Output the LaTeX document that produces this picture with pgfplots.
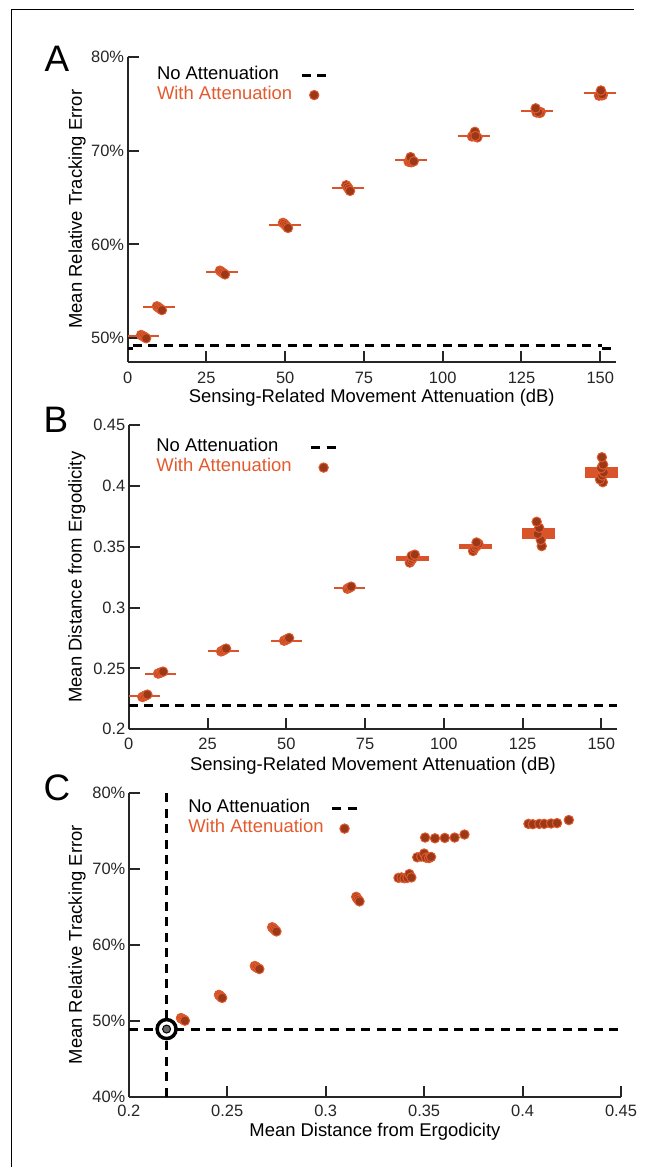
\documentclass[border=0pt]{standalone}
\usepackage{fontspec}
\setmainfont{Liberation Sans}
\usepackage{pgfplots}
\pgfplotsset{compat=1.18}
\usepackage{pgfplotstable}

\definecolor{barc}{HTML}{D9542A}
\definecolor{dotfill}{HTML}{9A3817}
\definecolor{dotedge}{HTML}{DE5A2E}
\definecolor{txto}{HTML}{E35A2E}
\definecolor{axc}{HTML}{262626}

\pgfplotstableread{
cond xj dist err
5 4.3 0.2265 50.35
5 4.7 0.2270 50.25
5 5.1 0.2275 50.2
5 5.5 0.2280 50.1
5 5.9 0.2285 50.0
10 9.3 0.2458 53.4
10 9.7 0.2462 53.3
10 10.1 0.2466 53.2
10 10.5 0.2470 53.1
10 10.9 0.2474 53.0
30 29.3 0.2640 57.2
30 29.7 0.2645 57.1
30 30.1 0.2650 57.0
30 30.5 0.2657 56.9
30 30.9 0.2663 56.8
50 49.3 0.2728 62.3
50 49.7 0.2733 62.2
50 50.1 0.2738 62.05
50 50.5 0.2744 61.9
50 50.9 0.2750 61.75
70 69.4 0.3155 66.3
70 69.8 0.3160 66.1
70 70.2 0.3166 65.9
70 70.6 0.3172 65.7
90 89.2 0.3370 68.8
90 89.6 0.3385 68.85
90 90.0 0.3400 68.75
90 90.4 0.3415 68.8
90 89.8 0.3425 69.3
90 90.8 0.3435 68.85
110 109.3 0.3465 71.5
110 109.7 0.3485 71.6
110 110.2 0.3500 72.0
110 110.6 0.3510 71.45
110 111.0 0.3525 71.4
110 110.4 0.3535 71.55
130 131.1 0.3505 74.1
130 130.8 0.3555 74.0
130 129.8 0.3605 74.05
130 130.3 0.3655 74.1
130 129.5 0.3705 74.5
150 150.5 0.4030 75.9
150 149.6 0.4052 75.85
150 150.3 0.4085 75.9
150 150.8 0.4110 75.9
150 150.0 0.4145 75.95
150 150.6 0.4175 76.0
150 150.2 0.4235 76.4
}\pts

\pgfplotsset{
 panel/.style={
  scale only axis, clip=false,
  axis lines=left,
  axis line style={-, axc, line width=2bp},
  tick align=inside, major tick length=11bp,
  every tick/.style={axc, line width=2bp},
  tick label style={font=\fontsize{16.5}{18}\selectfont, text=axc},
  label style={font=\fontsize{18.5}{20}\selectfont},
  legend style={draw=none, fill=none, inner sep=0pt, outer sep=0pt, anchor=north west,
    font=\fontsize{18.5}{20}\selectfont,
    nodes={inner sep=0pt, outer sep=0pt, text height=14bp, text depth=6bp}, row sep=0pt},
  legend cell align=left, legend plot pos=right,
 },
 dots/.style={only marks, mark=*, mark size=4.7bp, mark options={fill=dotfill, draw=dotedge, line width=1bp}},
 nodash/.style={black, line width=3bp, dash pattern=on 9bp off 6.5bp},
 thinbar/.style={barc, line width=2bp},
 boxbar/.style={fill=barc, draw=barc, line width=1.5bp},
 dashleg/.style={legend image code/.code={\draw[##1] (0bp,0bp) -- (25bp,0bp);}},
 dotleg/.style={legend image code/.code={\path (0bp,0bp) (25bp,0bp); \draw[##1] plot coordinates {(12.5bp,0bp)};}},
}

\begin{document}
\begin{tikzpicture}
\path[use as bounding box] (0bp,0bp) rectangle (646bp,-1167bp);
\draw[black, line width=1bp] (11.5bp,-1167bp) -- (11.5bp,-9.5bp) -- (634bp,-9.5bp);

\node[font=\fontsize{37}{40}\selectfont, inner sep=0pt, anchor=center] at (57bp,-58.5bp) {A};
\node[font=\fontsize{37}{40}\selectfont, inner sep=0pt, anchor=center] at (56bp,-420bp) {B};
\node[font=\fontsize{37}{40}\selectfont, inner sep=0pt, anchor=center] at (57bp,-787.5bp) {C};

% ---------------- Panel A
\begin{axis}[panel,
  at={(127.6bp,-361.7bp)}, anchor=south west,
  width=488.4bp, height=305bp,
  xmin=0, xmax=155, ymin=47.5, ymax=80,
  xtick={0,25,50,75,100,125,150}, xticklabels={0,25,50,75,100,125,150},
  ytick={50,60,70,80}, yticklabels={50\%,60\%,70\%,80\%},
  xticklabel style={yshift=-7bp},
  xlabel={Sensing-Related Movement Attenuation (dB)},
  ylabel={Mean Relative Tracking Error},
  xlabel style={at={(axis description cs:0.5,-0.119)}, anchor=center},
  ylabel style={at={(axis description cs:-0.1036,0.5)}, anchor=center},
  legend style={at={(axis description cs:0.0602,0.9725)}, /tikz/column sep=8bp},
]
\addlegendimage{nodash, dashleg}
\addlegendentry{No Attenuation}
\addlegendimage{dots, dotleg}
\addlegendentry{\textcolor{txto}{With Attenuation}}
\addplot[nodash, forget plot] coordinates {(0,48.9) (1.6,48.9)};
\addplot[nodash, forget plot] coordinates {(1.6,49.25) (150.5,49.25)};
\addplot[nodash, forget plot] coordinates {(150.5,48.9) (155,48.9)};
\addplot[thinbar, forget plot] coordinates {(0,50.25) (10,50.25)};
\addplot[thinbar, forget plot] coordinates {(5,53.34) (15,53.34)};
\addplot[thinbar, forget plot] coordinates {(25,57.07) (35,57.07)};
\addplot[thinbar, forget plot] coordinates {(45,62.05) (55,62.05)};
\addplot[thinbar, forget plot] coordinates {(65,65.96) (75,65.96)};
\addplot[thinbar, forget plot] coordinates {(85,68.98) (95,68.98)};
\addplot[thinbar, forget plot] coordinates {(105,71.6) (115,71.6)};
\addplot[thinbar, forget plot] coordinates {(125,74.2) (135,74.2)};
\addplot[thinbar, forget plot] coordinates {(145,76.1) (155,76.1)};
\addplot[dots, forget plot] table[x=xj, y=err] {\pts};
\end{axis}

% ---------------- Panel B
\begin{axis}[panel,
  at={(128.8bp,-729.3bp)}, anchor=south west,
  width=488.2bp, height=304.3bp,
  xmin=0, xmax=155, ymin=0.2, ymax=0.45,
  xtick={0,25,50,75,100,125,150}, xticklabels={0,25,50,75,100,125,150},
  ytick={0.2,0.25,0.3,0.35,0.4,0.45}, yticklabels={0.2,0.25,0.3,0.35,0.4,0.45},
  xticklabel style={yshift=-5bp},
  xlabel={Sensing-Related Movement Attenuation (dB)},
  ylabel={Mean Distance from Ergodicity},
  xlabel style={at={(axis description cs:0.5,-0.1206)}, anchor=center},
  ylabel style={at={(axis description cs:-0.1065,0.5)}, anchor=center},
  legend style={at={(axis description cs:0.0565,0.9586)}, /tikz/column sep=18bp},
]
\addlegendimage{nodash, dashleg}
\addlegendentry{No Attenuation}
\addlegendimage{dots, dotleg}
\addlegendentry{\textcolor{txto}{With Attenuation}}
\addplot[nodash, forget plot] coordinates {(0,0.2194) (155,0.2194)};
\addplot[thinbar, forget plot] coordinates {(0,0.2275) (10,0.2275)};
\addplot[thinbar, forget plot] coordinates {(5,0.2454) (15,0.2454)};
\addplot[thinbar, forget plot] coordinates {(25,0.2646) (35,0.2646)};
\addplot[thinbar, forget plot] coordinates {(45,0.2728) (55,0.2728)};
\addplot[thinbar, forget plot] coordinates {(65,0.3163) (75,0.3163)};
\addplot[boxbar, forget plot] coordinates {(85,0.3388) (95,0.3388) (95,0.3415) (85,0.3415)} -- cycle;
\addplot[boxbar, forget plot] coordinates {(105,0.3486) (115,0.3486) (115,0.3519) (105,0.3519)} -- cycle;
\addplot[boxbar, forget plot] coordinates {(125,0.3569) (135,0.3569) (135,0.3648) (125,0.3648)} -- cycle;
\addplot[boxbar, forget plot] coordinates {(145,0.4068) (155,0.4068) (155,0.4152) (145,0.4152)} -- cycle;
\addplot[dots, forget plot] table[x=xj, y=dist] {\pts};
\end{axis}

% ---------------- Panel C
\begin{axis}[panel,
  at={(128.8bp,-1096.7bp)}, anchor=south west,
  width=492.2bp, height=304bp,
  xmin=0.2, xmax=0.45, ymin=40, ymax=80,
  xtick={0.2,0.25,0.3,0.35,0.4,0.45}, xticklabels={0.2,0.25,0.3,0.35,0.4,0.45},
  ytick={40,50,60,70,80}, yticklabels={40\%,50\%,60\%,70\%,80\%},
  xticklabel style={yshift=-5bp},
  xlabel={Mean Distance from Ergodicity},
  ylabel={Mean Relative Tracking Error},
  xlabel style={at={(axis description cs:0.5,-0.115)}, anchor=center},
  ylabel style={at={(axis description cs:-0.105,0.5)}, anchor=center},
  legend style={at={(axis description cs:0.1209,0.9806)}, /tikz/column sep=7bp},
]
\addlegendimage{nodash, dashleg}
\addlegendentry{No Attenuation}
\addlegendimage{dots, dotleg}
\addlegendentry{\textcolor{txto}{With Attenuation}}
\addplot[nodash, forget plot] coordinates {(0.2192,40) (0.2192,80)};
\addplot[nodash, forget plot] coordinates {(0.2,48.9) (0.45,48.9)};
\addplot[dots, forget plot] table[x=dist, y=err] {\pts};
\addplot[only marks, mark=*, mark size=9.5bp, mark options={fill=white, draw=black, line width=3.5bp}, forget plot] coordinates {(0.2192,48.9)};
\addplot[only marks, mark=*, mark size=4bp, mark options={fill=black!60, draw=black, line width=1bp}, forget plot] coordinates {(0.2192,48.9)};
\end{axis}
\end{tikzpicture}
\end{document}
